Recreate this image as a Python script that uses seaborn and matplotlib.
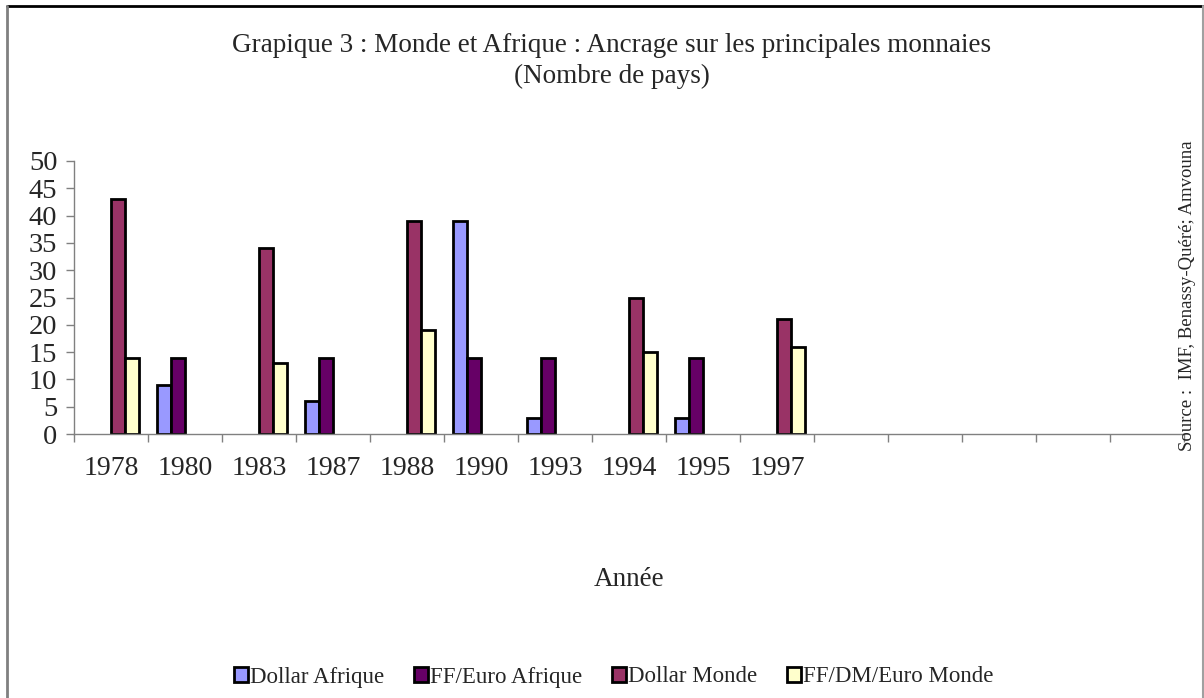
import matplotlib
matplotlib.use("Agg")
import matplotlib.pyplot as plt
from matplotlib.lines import Line2D
from matplotlib.patches import Patch
import numpy as np
import pandas as pd
import seaborn as sns

# data
years = ['1978', '1980', '1983', '1987', '1988', '1990', '1993', '1994', '1995', '1997']
series = ['Dollar Afrique', 'FF/Euro Afrique', 'Dollar Monde', 'FF/DM/Euro Monde']
dollar_afrique = [np.nan, 9, np.nan, 6, np.nan, 39, 3, np.nan, 3, np.nan]
ff_euro_afrique = [np.nan, 14, np.nan, 14, np.nan, 14, 14, np.nan, 14, np.nan]
dollar_monde = [43, np.nan, 34, np.nan, 39, np.nan, np.nan, 25, np.nan, 21]
ff_dm_euro_monde = [14, np.nan, 13, np.nan, 19, np.nan, np.nan, 15, np.nan, 16]
n_slots = 15  # axis keeps 5 empty categories after 1997

colors = ['#9999FF', '#660066', '#993366', '#FFFFCC']

df = pd.DataFrame({
    'Année': years * 4,
    'serie': np.repeat(series, len(years)),
    'valeur': dollar_afrique + ff_euro_afrique + dollar_monde + ff_dm_euro_monde,
})

sns.set_style('white')
plt.rcParams['font.family'] = ['Liberation Serif', 'DejaVu Serif']

fig = plt.figure(figsize=(12.04, 6.98), dpi=100)
ax = fig.add_axes([74 / 1204, 1 - 434 / 698, 1110 / 1204, 273 / 698])

sns.barplot(data=df, x='Année', y='valeur', hue='serie', order=years, hue_order=series,
            palette=colors, width=0.76, edgecolor='black', linewidth=2, ax=ax,
            legend=False, errorbar=None, saturation=1)

ax.set_xlim(-0.5, n_slots - 0.5)
ax.set_ylim(0, 50)
ax.set_yticks(range(0, 51, 5))
ax.set_xticks(range(len(years)))
ax.set_xticklabels(years)
ax.set_xticks(np.arange(-0.5, n_slots, 1), minor=True)
ax.tick_params(axis='x', which='major', length=0, pad=16, labelsize=20)
ax.tick_params(axis='x', which='minor', length=6, width=1, color='#808080', direction='out')
ax.tick_params(axis='y', length=6, width=1, color='#808080', direction='out', labelsize=20.5, pad=6)
ax.xaxis.set_ticks_position('bottom')
ax.yaxis.set_ticks_position('left')
for s in ['top', 'right']:
    ax.spines[s].set_visible(False)
for s in ['left', 'bottom']:
    ax.spines[s].set_color('#808080')
    ax.spines[s].set_linewidth(1)
ax.set_xlabel('Année', fontsize=19.5, labelpad=62)
ax.set_ylabel('')

fig.text(612 / 1204, 1 - 46 / 698,
         'Grapique 3 : Monde et Afrique : Ancrage sur les principales monnaies',
         ha='center', va='center', fontsize=19.5)
fig.text(612 / 1204, 1 - 76 / 698, '(Nombre de pays)',
         ha='center', va='center', fontsize=19.5)
fig.text(1187 / 1204, 1 - 296 / 698, 'Source :  IMF, Benassy-Quéré; Amvouna',
         rotation=90, ha='center', va='center', fontsize=13.5)

handles = [Patch(facecolor=c, edgecolor='black', linewidth=2) for c in colors]
fig.legend(handles, series, loc='center', bbox_to_anchor=(614 / 1204, 1 - 677 / 698), ncol=4,
           frameon=False, fontsize=16.5, handlelength=0.6, handleheight=0.6,
           handletextpad=0.1, columnspacing=1.3)

# outer chart frame
fig.add_artist(Line2D([7 / 1204, 1], [1 - 6 / 698] * 2, color='black', lw=2, transform=fig.transFigure))
fig.add_artist(Line2D([7 / 1204] * 2, [0, 1 - 6 / 698], color='#808080', lw=2, transform=fig.transFigure))
fig.add_artist(Line2D([1202.5 / 1204] * 2, [0, 1 - 6 / 698], color='#A0A0A0', lw=1.5, transform=fig.transFigure))

fig.savefig('out.png', dpi=100)
